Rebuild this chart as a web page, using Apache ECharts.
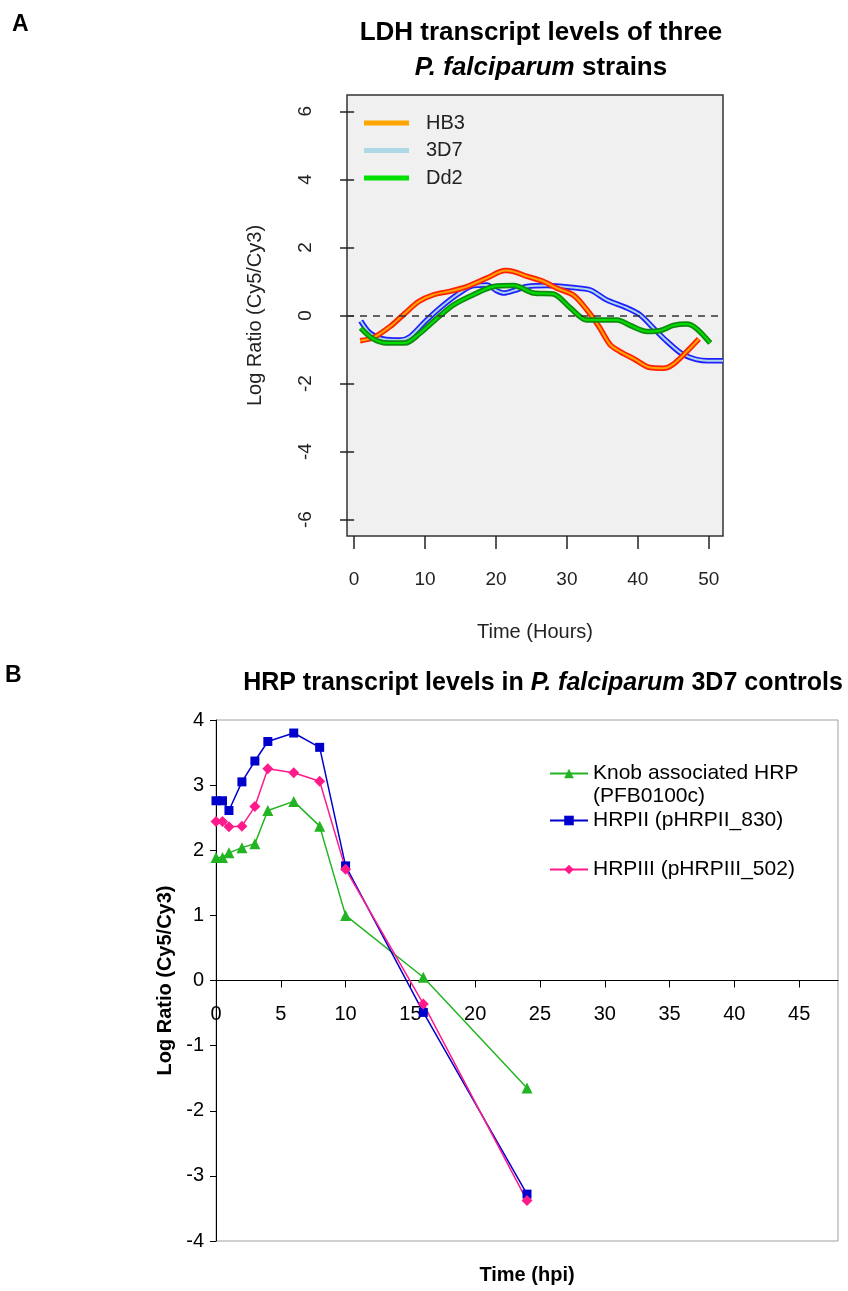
<!DOCTYPE html>
<html>
<head>
<meta charset="utf-8">
<script src="https://cdn.jsdelivr.net/npm/echarts@6/dist/echarts.min.js"></script>
<style>
  html, body { margin: 0; padding: 0; background: #fff; }
  #chart { width: 848px; height: 1291px; }
</style>
</head>
<body>
<div id="chart"></div>
<script>
// panel A - LDH curves (hours, log ratio)
const hb3Hours = [0.85, 2.7, 5.1, 7.2, 9.1, 11.2, 13.5, 15.9, 18.7, 21.3, 22.5, 24.4, 26.7, 28.6, 30.9, 32.8, 34.5, 36.1, 37.5, 39.4, 41.7, 43.6, 45.0, 46.9, 48.6]
const hb3Ratio = [-0.74, -0.65, -0.32, 0.07, 0.41, 0.61, 0.71, 0.85, 1.1, 1.32, 1.29, 1.15, 1.0, 0.8, 0.6, 0.17, -0.32, -0.86, -1.06, -1.27, -1.53, -1.55, -1.43, -1.06, -0.69]
const d37Hours = [0.94, 2.26, 4.1, 6.5, 7.9, 10.0, 12.1, 14.5, 16.8, 18.7, 20.1, 21.1, 22.5, 24.4, 27.2, 30.9, 33.3, 35.6, 38.5, 40.3, 42.2, 44.1, 46.5, 49.8, 52]
const d37Ratio = [-0.16, -0.52, -0.69, -0.72, -0.62, -0.18, 0.22, 0.61, 0.88, 0.9, 0.73, 0.66, 0.73, 0.85, 0.88, 0.82, 0.75, 0.46, 0.22, 0.02, -0.37, -0.76, -1.16, -1.33, -1.33]
const dd2Hours = [0.94, 2.7, 4.6, 7.2, 9.3, 11.7, 14.0, 16.8, 19.7, 22.5, 25.3, 28.1, 30.5, 32.8, 37.1, 38.9, 41.3, 43.2, 45.0, 46.9, 48.3, 50.2]
const dd2Ratio = [-0.37, -0.69, -0.81, -0.81, -0.52, -0.08, 0.31, 0.61, 0.85, 0.88, 0.66, 0.63, 0.22, -0.13, -0.13, -0.29, -0.47, -0.44, -0.29, -0.25, -0.39, -0.81]
const aXTicks = [0, 10, 20, 30, 40, 50]
const aYTicks = [-6, -4, -2, 0, 2, 4, 6]

// panel B - HRP controls
const hpi = [0, 0.5, 1, 2, 3, 4, 6, 8, 10, 16, 24]
const knobRatio = [1.89, 1.89, 1.96, 2.04, 2.10, 2.61, 2.75, 2.37, 1.0, 0.05, -1.65]
const hrp2Ratio = [2.76, 2.76, 2.61, 3.05, 3.37, 3.67, 3.80, 3.58, 1.76, -0.49, -3.28]
const hrp3Ratio = [2.44, 2.44, 2.36, 2.37, 2.67, 3.25, 3.19, 3.06, 1.71, -0.36, -3.38]
const bXTicks = [0, 5, 10, 15, 20, 25, 30, 35, 40, 45]

const FONT = '"Liberation Sans", Arial, sans-serif'

const pairs = (xs, ys) => xs.map((x, i) => [x, ys[i]])

// R style curve: dark edge + light core
const curve = (name, xs, ys, color, width, extra) => Object.assign({
  name: name,
  type: 'line',
  xAxisIndex: 0,
  yAxisIndex: 0,
  data: pairs(xs, ys),
  symbol: 'none',
  smooth: 0.3,
  silent: true,
  color: color,
  lineStyle: { color: color, width: width }
}, extra || {})

const chartInstance = echarts.init(document.getElementById('chart'))

const option = {
  backgroundColor: '#fff',
  animation: false,
  textStyle: { fontFamily: FONT },
  title: [
    {
      text: '{b|LDH transcript levels of three}\n{i|P. falciparum}{b| strains}',
      left: 536,
      top: 10,
      textAlign: 'center',
      textStyle: {
        rich: {
          b: { fontWeight: 'bold', fontSize: 26, lineHeight: 35, color: '#000' },
          i: { fontWeight: 'bold', fontStyle: 'italic', fontSize: 26, lineHeight: 35, color: '#000' }
        }
      }
    },
    {
      text: '{b|HRP transcript levels in }{i|P. falciparum}{b| 3D7 controls}',
      left: 538,
      top: 666,
      textAlign: 'center',
      textStyle: {
        rich: {
          b: { fontWeight: 'bold', fontSize: 25, color: '#000' },
          i: { fontWeight: 'bold', fontStyle: 'italic', fontSize: 25, color: '#000' }
        }
      }
    }
  ],
  legend: [
    {
      data: ['HB3', '3D7', 'Dd2'],
      orient: 'vertical',
      left: 364,
      top: 113,
      padding: 0,
      itemGap: 7.5,
      itemWidth: 45,
      itemHeight: 5,
      icon: 'rect',
      selectedMode: false,
      textStyle: { fontSize: 20, color: '#222', lineHeight: 20, padding: [0, 0, 0, 12] }
    },
    {
      data: ['Knob associated HRP'],
      left: 549, top: 763, padding: 0,
      itemWidth: 38, itemHeight: 12, selectedMode: false,
      textStyle: { fontSize: 21, color: '#000', lineHeight: 21 }
    },
    {
      data: ['HRPII (pHRPII_830)'],
      left: 549, top: 810, padding: 0,
      itemWidth: 38, itemHeight: 12, selectedMode: false,
      textStyle: { fontSize: 21, color: '#000', lineHeight: 21 }
    },
    {
      data: ['HRPIII (pHRPIII_502)'],
      left: 549, top: 859, padding: 0,
      itemWidth: 38, itemHeight: 12, selectedMode: false,
      textStyle: { fontSize: 21, color: '#000', lineHeight: 21 }
    }
  ],
  graphic: [
    { type: 'text', left: 12, top: 13, style: { text: 'A', font: 'bold 23px ' + FONT, fill: '#000' } },
    { type: 'text', left: 5, top: 664, style: { text: 'B', font: 'bold 23px ' + FONT, fill: '#000' } },
    { type: 'text', left: 593, top: 786, style: { text: '(PFB0100c)', font: '21px ' + FONT, fill: '#000' } },
    {
      type: 'text', x: 527, y: 1275,
      style: { text: 'Time (hpi)', font: 'bold 20px ' + FONT, fill: '#000', textAlign: 'center', textVerticalAlign: 'middle' }
    }
  ],
  grid: [
    {
      left: 347, top: 95, width: 376, height: 441,
      show: true, backgroundColor: '#f0f0f0', borderColor: '#333', borderWidth: 1.5
    },
    {
      left: 216, top: 720, width: 622, height: 521,
      show: true, backgroundColor: '#fff', borderColor: '#a0a0a0', borderWidth: 1
    }
  ],
  xAxis: [
    {
      gridIndex: 0,
      type: 'value',
      min: -1,
      max: 52,
      name: 'Time (Hours)',
      nameLocation: 'middle',
      nameGap: 86,
      nameTextStyle: { fontSize: 20, color: '#222' },
      axisLine: { show: false, onZero: false },
      splitLine: { show: false },
      axisTick: { show: true, length: 13, customValues: aXTicks, lineStyle: { color: '#222', width: 1.5 } },
      axisLabel: { customValues: aXTicks, fontSize: 19, color: '#222', margin: 34 }
    },
    {
      gridIndex: 1,
      type: 'value',
      min: 0,
      max: 48,
      // Excel puts the category axis at y = 0
      offset: -260.5,
      axisLine: { onZero: false, lineStyle: { color: '#000', width: 1 } },
      splitLine: { show: false },
      axisTick: { length: 7, customValues: bXTicks, lineStyle: { color: '#000' } },
      axisLabel: { customValues: bXTicks, fontSize: 20, color: '#000', margin: 24 }
    }
  ],
  yAxis: [
    {
      gridIndex: 0,
      type: 'value',
      min: -6.48,
      max: 6.48,
      name: 'Log Ratio (Cy5/Cy3)',
      nameLocation: 'middle',
      nameGap: 82,
      nameTextStyle: { fontSize: 20, color: '#222' },
      axisLine: { show: false },
      splitLine: { show: false },
      axisTick: { show: true, length: 14, customValues: aYTicks, lineStyle: { color: '#222', width: 1.5 } },
      axisLabel: { customValues: aYTicks, rotate: 90, fontSize: 19, color: '#222', margin: 32 }
    },
    {
      gridIndex: 1,
      type: 'value',
      min: -4,
      max: 4,
      interval: 1,
      name: 'Log Ratio (Cy5/Cy3)',
      nameLocation: 'middle',
      nameGap: 41,
      nameTextStyle: { fontSize: 20, fontWeight: 'bold', color: '#000' },
      axisLine: { show: true, lineStyle: { color: '#000', width: 1 } },
      splitLine: { show: false },
      axisTick: { show: true, length: 6, lineStyle: { color: '#000' } },
      axisLabel: { fontSize: 20, color: '#000', margin: 12 }
    }
  ],
  series: [
    curve('3D7 edge', d37Hours, d37Ratio, '#2020ff', 5.5, {
      markLine: {
        silent: true,
        symbol: 'none',
        label: { show: false },
        lineStyle: { type: [7, 6], color: '#333', width: 1.5 },
        data: [{ yAxis: 0 }]
      }
    }),
    curve('3D7', d37Hours, d37Ratio, '#add8e6', 2),
    curve('HB3 edge', hb3Hours, hb3Ratio, '#ff2200', 5.5),
    curve('HB3', hb3Hours, hb3Ratio, '#ffa500', 2),
    curve('Dd2 edge', dd2Hours, dd2Ratio, '#108a10', 5.5),
    curve('Dd2', dd2Hours, dd2Ratio, '#00e000', 2),
    {
      name: 'Knob associated HRP',
      type: 'line',
      xAxisIndex: 1,
      yAxisIndex: 1,
      data: pairs(hpi, knobRatio),
      symbol: 'triangle',
      symbolSize: 11,
      color: '#22b422',
      lineStyle: { width: 1.5 }
    },
    {
      name: 'HRPII (pHRPII_830)',
      type: 'line',
      xAxisIndex: 1,
      yAxisIndex: 1,
      data: pairs(hpi, hrp2Ratio),
      symbol: 'rect',
      symbolSize: 9,
      color: '#0000cc',
      lineStyle: { width: 1.5 }
    },
    {
      name: 'HRPIII (pHRPIII_502)',
      type: 'line',
      xAxisIndex: 1,
      yAxisIndex: 1,
      data: pairs(hpi, hrp3Ratio),
      symbol: 'diamond',
      symbolSize: 11,
      color: '#ff1a8c',
      lineStyle: { width: 1.5 }
    }
  ]
}
chartInstance.setOption(option)
</script>
</body>
</html>
